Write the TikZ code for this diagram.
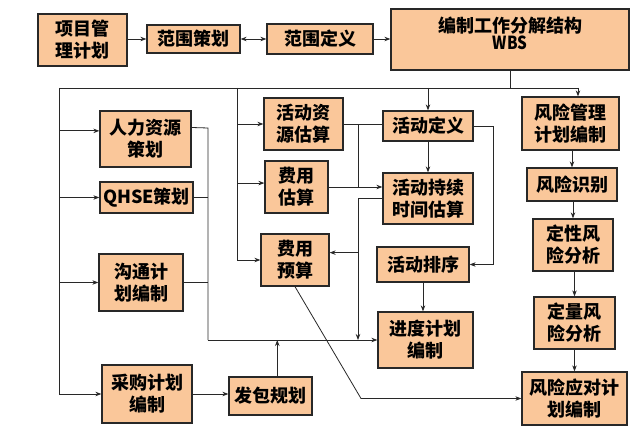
\documentclass[tikz,border=0pt]{standalone}
\usepackage{fontspec}
\newfontfamily\cjk{Noto Sans CJK SC}
\usetikzlibrary{arrows.meta,calc}
\definecolor{boxc}{RGB}{250,199,154}
\definecolor{edgec}{RGB}{40,40,40}
\begin{document}
\begin{tikzpicture}[x=1pt,y=-1pt,
 box/.style={draw=edgec,line width=1.3pt,fill=boxc,align=center,inner sep=0pt,
   font=\cjk\bfseries\fontsize{18}{22}\selectfont},
 sz/.style 2 args={minimum width=#1pt,minimum height=#2pt},
 ln/.style={draw=edgec,line width=0.8pt},
 arr/.style={ln,-{Stealth[length=6pt,width=4.5pt]}},
 darr/.style={ln,{Stealth[length=6pt,width=4.5pt]}-{Stealth[length=6pt,width=4.5pt]}}]
\fill[white] (0,0) rectangle (640,436);
\useasboundingbox (0,0) rectangle (640,436);

% top row
\node[box,sz={89}{52}] (pm) at (82.5,40) {项目管\\理计划};
\node[box,sz={93}{28}] (fc) at (193.5,39) {范围策划};
\node[box,sz={106}{30}] (fd) at (320,39) {范围定义};
\node[box,sz={238}{61}] (wbs) at (510,39.5) {};
\node[inner sep=0pt,font=\cjk\bfseries\fontsize{18}{18}\selectfont] (wbst1) at (510,25.5) {编制工作分解结构};
\node[inner sep=0pt,font=\cjk\bfseries\fontsize{18}{18}\selectfont] (wbst2) at (510,42.5) {\scalebox{0.85}[1]{WBS}};

% left column
\node[box,sz={91}{56}] (hr) at (145.5,139) {人力资源\\策划};
\node[box,sz={93}{31}] (qh) at (146.5,197.5) {QHSE策划};
\node[box,sz={84}{57}] (gt) at (141,282.5) {沟通计\\划编制};
\node[box,sz={90}{58}] (cg) at (147,394) {采购计划\\编制};
\node[box,sz={83}{38}] (fb) at (270.5,396) {发包规划};

% middle column
\node[box,sz={79}{52}] (zy) at (303.5,124) {活动资\\源估算};
\node[box,sz={63}{52}] (fg) at (296.5,187) {费用\\估算};
\node[box,sz={68}{52}] (fy) at (295,260) {费用\\预算};

% activity column
\node[box,sz={90}{30}] (dy) at (428,126) {活动定义};
\node[box,sz={90}{51}] (cx) at (428,198.5) {活动持续\\时间估算};
\node[box,sz={92}{35}] (px) at (423,264.5) {活动排序};
\node[box,sz={95}{56}] (jd) at (425.5,340) {进度计划\\编制};

% risk column
\node[box,sz={97}{53}] (fx1) at (570.5,123.5) {风险管理\\计划编制};
\node[box,sz={90}{33}] (fx2) at (572,184.5) {风险识别};
\node[box,sz={80}{52}] (fx3) at (573,245) {定性风\\险分析};
\node[box,sz={81}{52}] (fx4) at (574.5,323) {定量风\\险分析};
\node[box,sz={105}{53}] (fx5) at (574.5,398.5) {风险应对计\\划编制};

% helper coordinates
\coordinate (busL) at (59,88);
\coordinate (busR) at (578,88);
\coordinate (bus) at (510,88);
\coordinate (mvT) at (237,88);
\coordinate (mvB) at (237,260);
\coordinate (lbot) at (59,394);
\coordinate (rvT) at (208,128);
\coordinate (rvB) at (208,340);
\coordinate (cvx) at (358,0);
\coordinate (dvx) at (493,0);
\coordinate (dgx) at (361,0);

% top row connectors
\draw[arr] (pm.east|-fc.west) -- (fc.west);
\draw[darr] (fc.east) -- (fd.west);
\draw[arr] (fd.east) -- (fd.east-|wbs.west);

% bus
\draw[ln] (wbs.south-|bus) -- (bus);
\draw[ln] (busL) -- (busR);
\draw[arr] (dy.north|-bus) -- (dy.north);
\draw[arr] (busR) -- (busR|-fx1.north);

% left vertical
\draw[ln] (busL) -- (lbot);
\draw[arr] (lbot) -- (cg.west);
\draw[arr] (busL|-hr.170) -- (hr.170);
\draw[arr] (busL|-qh.west) -- (qh.west);
\draw[arr] (busL|-gt.west) -- (gt.west);

% collector to schedule
\draw[ln] (hr.14) -- (rvT) -- (rvB);
\draw[ln] (qh.east) -- (qh.east-|rvT);
\draw[ln] (gt.east) -- (gt.east-|rvT);
\draw[arr] (rvB) -- (jd.west);
\draw[arr] (cg.east) -- (cg.east-|fb.west);
\draw[arr] (fb.71) -- (fb.71|-rvB);

% middle vertical
\draw[ln] (mvT) -- (mvB);
\draw[arr] (mvB) -- (fy.west);
\draw[arr] (mvT|-zy.west) -- (zy.west);
\draw[arr] (mvT|-fg.173) -- (fg.173);

% resources / cost estimates to duration
\draw[ln] (zy.east) -- (zy.east-|dy.west);
\draw[ln] (zy.east-|cvx) -- (fg.east-|cvx);
\draw[arr] (fg.east) -- (fg.east-|cx.west);
\draw[arr] (cx.west) -- (cx.west-|cvx) -- (cvx|-rvB);
\draw[arr] (cvx|-fy.12) -- (fy.12);

% activity chain
\draw[arr] (dy.south) -- (cx.north);
\draw[arr] (dy.east) -- (dy.east-|dvx) -- (dvx|-px.east) -- (px.east);
\draw[arr] (px.south) -- (px.south|-jd.north);

% budget to risk response
\draw[arr] (fy.south) -- (fx5.west-|dgx) -- (fx5.west);

% risk chain
\draw[arr] (fx2.north|-fx1.south) -- (fx2.north);
\draw[arr] (fx3.north|-fx2.south) -- (fx3.north);
\draw[arr] (fx4.north|-fx3.south) -- (fx4.north);
\draw[arr] (fx5.north|-fx4.south) -- (fx5.north);
\end{tikzpicture}
\end{document}
